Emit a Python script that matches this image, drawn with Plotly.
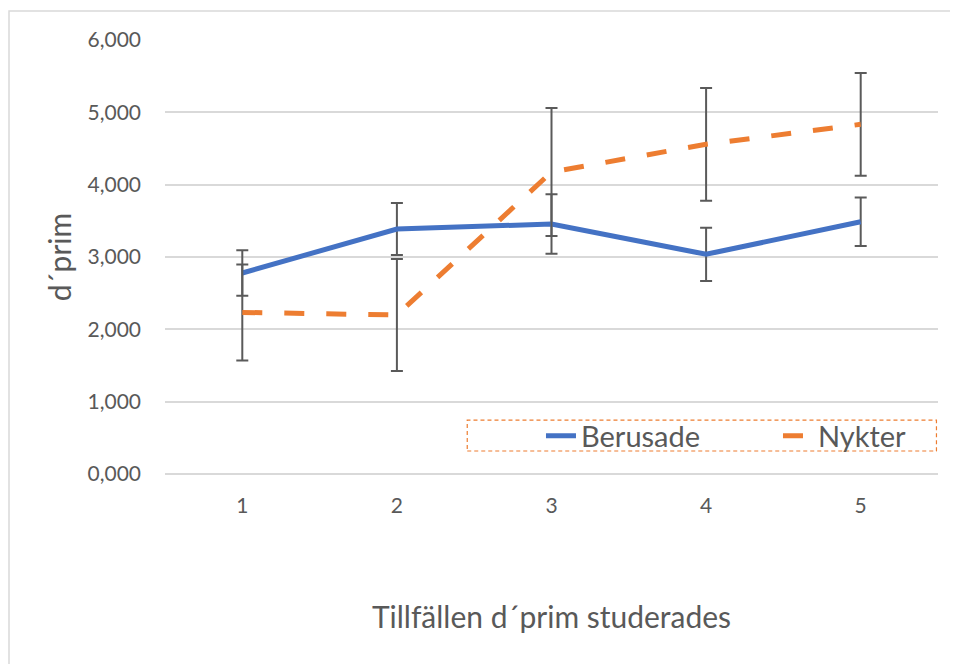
import plotly.graph_objects as go

categories = ["1", "2", "3", "4", "5"]
berusade = [2.779, 3.387, 3.456, 3.037, 3.488]
berusade_err = [0.316, 0.360, 0.410, 0.368, 0.335]
nykter = [2.234, 2.198, 4.175, 4.558, 4.834]
nykter_err = [0.664, 0.774, 0.885, 0.780, 0.710]
y_ticks = [0, 1, 2, 3, 4, 5, 6]

FONT = "Lato"
GRAY = "#595959"

fig = go.Figure()
fig.add_trace(go.Scatter(
    x=categories, y=berusade, name="Berusade", mode="lines",
    line=dict(color="#4472C4", width=5),
    error_y=dict(type="data", array=berusade_err, visible=True,
                 color="#5a5a5a", thickness=2, width=6),
))
fig.add_trace(go.Scatter(
    x=categories, y=nykter, name="Nykter", mode="lines",
    line=dict(color="#ED7D31", width=5, dash="20px,22px"),
    error_y=dict(type="data", array=nykter_err, visible=True,
                 color="#5a5a5a", thickness=2, width=6),
))

# outer chart border
fig.add_shape(type="rect", xref="paper", yref="paper",
              x0=-0.2018, x1=1.2, y0=-0.6, y1=1.0668,
              line=dict(color="#d9d9d9", width=1.5), layer="below")
# dashed legend border
fig.add_shape(type="rect", xref="paper", yref="paper",
              x0=0.391, x1=0.998, y0=0.053, y1=0.124,
              line=dict(color="#ED7D31", width=1.2, dash="4px,3px"),
              fillcolor="white", layer="above")

fig.update_layout(
    width=950, height=656,
    margin=dict(l=157, r=20, t=32, b=190, autoexpand=False),
    paper_bgcolor="white", plot_bgcolor="white",
    separators=",.",
    font=dict(family=FONT, color=GRAY),
    showlegend=True,
    legend=dict(orientation="h", x=0.4864, y=0.0876, xanchor="left", yanchor="middle",
                bgcolor="rgba(0,0,0,0)", font=dict(size=29, color=GRAY, family=FONT),
                entrywidth=192, entrywidthmode="pixels", itemclick=False),
    xaxis=dict(
        type="category", range=[-0.5, 4.5], automargin=False,
        showgrid=False, zeroline=False, showline=False,
        ticks="", tickfont=dict(size=21, color=GRAY), ticklabelstandoff=17,
        title=dict(text="Tillfällen d´prim studerades", font=dict(size=30, color=GRAY), standoff=90),
    ),
    yaxis=dict(
        range=[0, 6], tickvals=y_ticks, tickformat=".3f", automargin=False,
        showgrid=True, gridcolor="#d9d9d9", gridwidth=1.5,
        zeroline=True, zerolinecolor="#d9d9d9", zerolinewidth=1.5,
        showline=False, ticks="", tickfont=dict(size=21, color=GRAY), ticklabelstandoff=23,
        title=dict(text="d´prim", font=dict(size=30, color=GRAY), standoff=7),
    ),
)

fig.write_html("out.html")
